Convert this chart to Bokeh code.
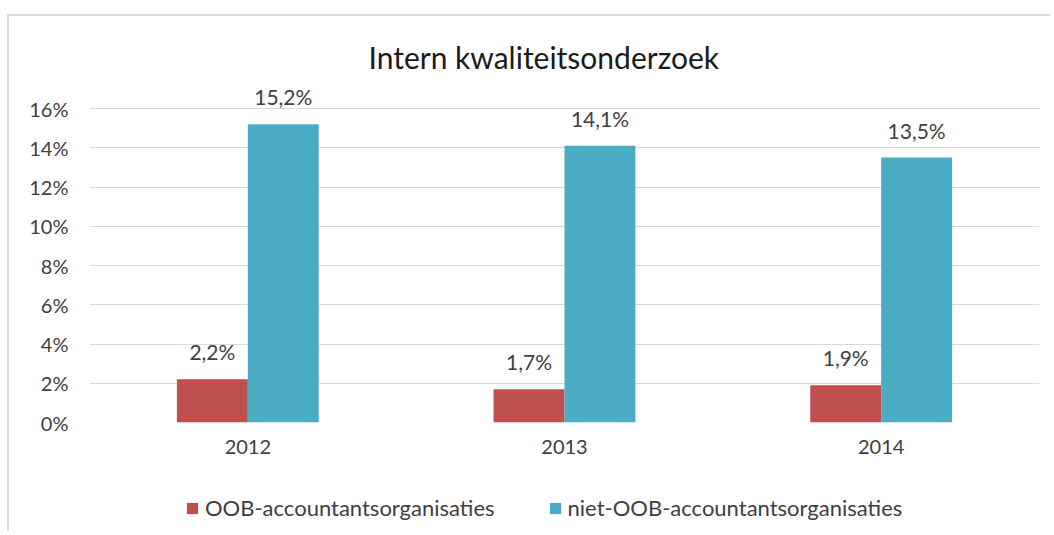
from bokeh.plotting import figure
from bokeh.layouts import column
from bokeh.models import ColumnDataSource, FactorRange, Legend, LegendItem, Title, FixedTicker, CustomJSTickFormatter
from bokeh.transform import dodge
from bokeh.embed import file_html
from bokeh.resources import INLINE
from bokeh.core.properties import value

years = ["2012", "2013", "2014"]
oob = [2.2, 1.7, 1.9]
niet_oob = [15.2, 14.1, 13.5]
series_names = ["OOB-accountantsorganisaties", "niet-OOB-accountantsorganisaties"]
y_ticks = [0, 2, 4, 6, 8, 10, 12, 14, 16]

RED = "#C0504D"
BLUE = "#4BACC6"
FONT = "Lato"
BORDER_LEFT = "linear-gradient(#D9D9D9,#D9D9D9) 7px 0px / 2px 100% no-repeat"
BORDER_TOP = "linear-gradient(#D9D9D9,#D9D9D9) 7px 14px / 100% 2px no-repeat"

def fmt(v):
    return ("%.1f%%" % v).replace(".", ",")

src = ColumnDataSource(dict(
    year=years, oob=oob, niet=niet_oob,
    oob_lbl=[fmt(v) for v in oob], niet_lbl=[fmt(v) for v in niet_oob],
))

# ---- main chart ----
p = figure(x_range=FactorRange(*years), y_range=(0, 17.43),
           width=1050, height=480, output_backend="svg", toolbar_location=None,
           min_border_left=89, min_border_right=11, min_border_top=80, min_border_bottom=58)
p.outline_line_color = None
p.background_fill_color = "white"
p.border_fill_alpha = 0
p.styles = {"background": "linear-gradient(#D9D9D9,#D9D9D9) 7px 14px / 2px 100% no-repeat, "
                          + BORDER_TOP + ", white"}

p.vbar(x=dodge("year", -0.112, range=p.x_range), top="oob", width=0.224, source=src,
       fill_color=RED, line_color=None)
p.vbar(x=dodge("year", 0.112, range=p.x_range), top="niet", width=0.224, source=src,
       fill_color=BLUE, line_color=None)

for xo, col, lbl in ((-0.112, "oob", "oob_lbl"), (0.112, "niet", "niet_lbl")):
    p.text(x=dodge("year", xo, range=p.x_range), y=col, text=lbl, source=src,
           text_align="center", text_baseline="bottom", y_offset=-15,
           text_font=value(FONT), text_font_size="21px", text_color="#404040")

p.xgrid.grid_line_color = None
p.ygrid.grid_line_color = "#D9D9D9"
p.ygrid.grid_line_width = 1
p.yaxis.ticker = FixedTicker(ticks=y_ticks)
p.yaxis.formatter = CustomJSTickFormatter(code="return tick.toFixed(0) + '%';")

for ax in (p.xaxis[0], p.yaxis[0]):
    ax.axis_line_color = None
    ax.major_tick_line_color = None
    ax.minor_tick_line_color = None
    ax.major_tick_out = 0
    ax.major_tick_in = 0
    ax.minor_tick_out = 0
    ax.major_label_text_font = FONT
    ax.major_label_text_font_size = "20px"
    ax.major_label_text_color = "#404040"
p.yaxis.major_label_standoff = 21
p.xaxis.major_label_standoff = 17

t = Title(text="Intern kwaliteitsonderzoek", align="left", offset=279,
          text_font=FONT, text_font_size="30px", text_font_style="normal",
          text_color="#1a1a1a", standoff=11)
p.add_layout(t, "above")

# ---- legend strip ----
p2 = figure(x_range=FactorRange(*years), y_range=(100, 101),
            width=1050, height=51, output_backend="svg", toolbar_location=None,
            min_border=0, x_axis_location=None, y_axis_location=None)
p2.grid.visible = False
p2.outline_line_color = None
p2.background_fill_alpha = 0
p2.border_fill_alpha = 0
p2.styles = {"background": BORDER_LEFT + ", white"}
l1 = p2.vbar(x=dodge("year", -0.112, range=p2.x_range), top="oob", width=0.224, source=src,
             fill_color=RED, line_color=None)
l2 = p2.vbar(x=dodge("year", 0.112, range=p2.x_range), top="niet", width=0.224, source=src,
             fill_color=BLUE, line_color=None)

legend = Legend(items=[LegendItem(label=series_names[0], renderers=[l1]),
                       LegendItem(label=series_names[1], renderers=[l2])],
                orientation="horizontal", location=(96, 10),
                padding=0, margin=0, spacing=53, glyph_width=14, glyph_height=14,
                label_standoff=6, label_height=20,
                label_text_font=FONT, label_text_font_size="22px", label_text_color="#404040",
                border_line_color=None, background_fill_alpha=0)
p2.add_layout(legend, "center")

layout = column(p, p2, spacing=0)
open("out.html", "w").write(file_html(layout, INLINE))
